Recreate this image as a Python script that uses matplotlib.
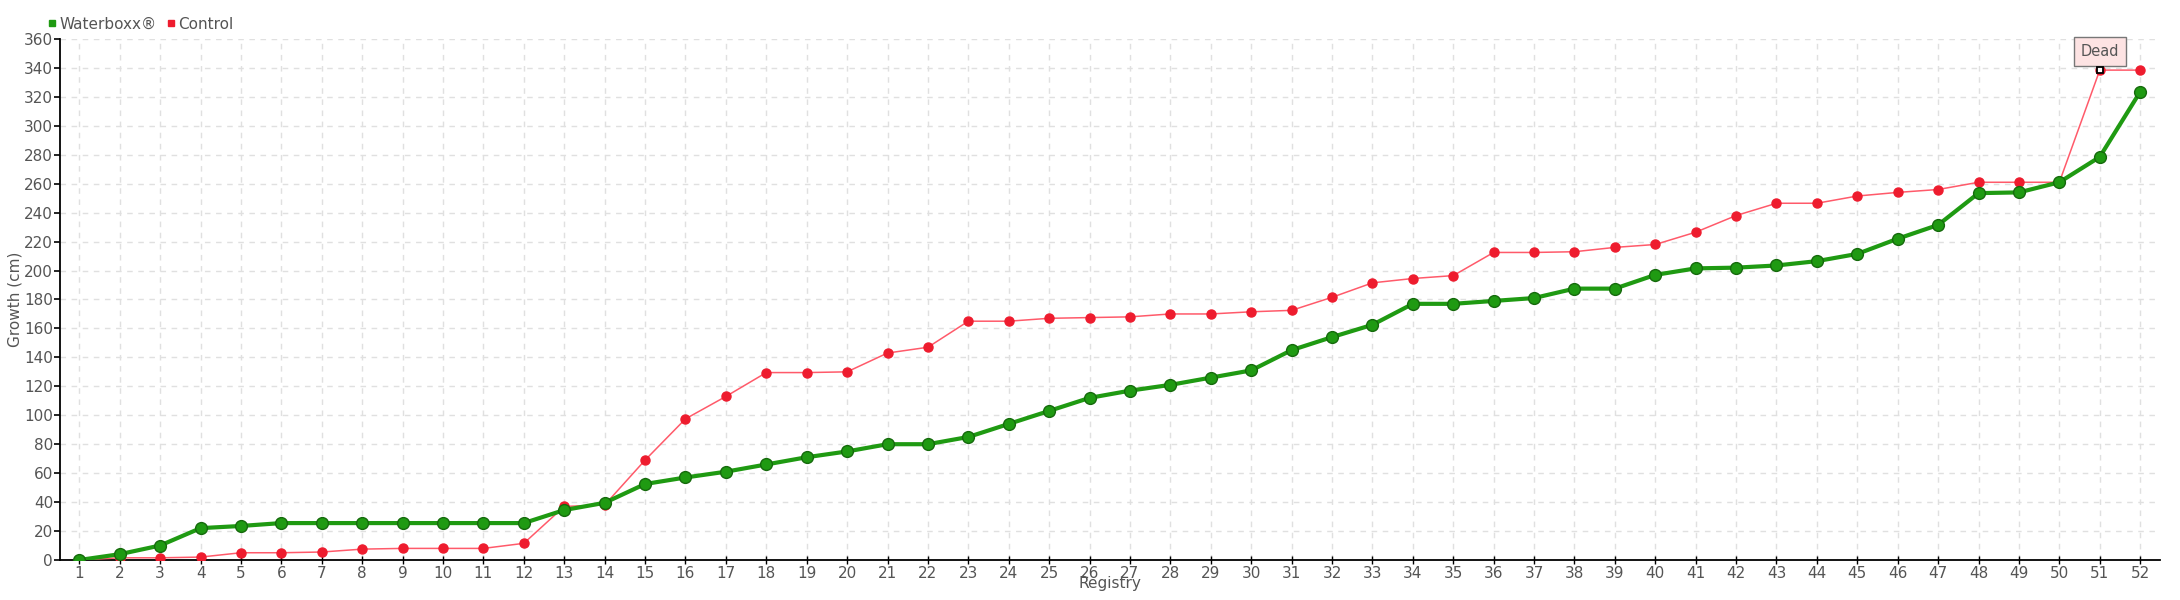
import matplotlib
matplotlib.use('Agg')
import matplotlib.pyplot as plt
from matplotlib.lines import Line2D

plt.rcParams['font.family'] = ['DejaVu Sans Condensed', 'Liberation Sans Narrow', 'DejaVu Sans']

# data
registry = list(range(1, 53))
waterboxx = [0, 4, 10, 22, 23.5, 25.5, 25.5, 25.5, 25.5, 25.5, 25.5, 25.5, 34.5, 39.5, 52.5, 57,
             61, 66, 71, 75, 80, 80, 85, 94, 103, 112, 117, 121, 126, 131, 145, 154,
             162.5, 177, 177, 179, 181, 187.5, 187.5, 197, 201.5, 202, 203.5, 206.5, 211.5, 222, 231.5, 253.5,
             254, 261, 278.5, 323.5]
control = [0, 1.5, 1.5, 2, 5, 5, 5.5, 7.5, 8, 8, 8, 11.5, 37, 38, 69, 97.5,
           113, 129.5, 129.5, 130, 143, 147, 165, 165, 167, 167.5, 168, 170, 170, 171.5, 172.5, 181.5,
           191.5, 194.5, 196.5, 212.5, 212.5, 213, 216, 218, 226.5, 238, 246.5, 246.5, 251.5, 254, 256, 261,
           261, 261, 338.5, 338.5]
dead_idx = 50  # registry 51 in control
yticks = list(range(0, 361, 20))

green = '#1f9a12'
red = '#ee1c2e'
text_col = '#555555'

fig = plt.figure(figsize=(21.8, 6), dpi=100)
ax = fig.add_axes([0.0275, 0.0667, 0.9635, 0.8683])

ax.plot(registry, control, color='#ff5a6a', lw=1.1, marker='o', ms=6.5,
        mfc=red, mec=red, zorder=3)
ax.plot(registry, waterboxx, color=green, lw=3, marker='o', ms=8.5,
        mfc=green, mec='#156a0c', mew=1, zorder=4)

# dead marker + label
ax.plot(registry[dead_idx], control[dead_idx], marker='s', ms=5, mfc='white',
        mec='black', mew=1.3, zorder=6, ls='none')
ax.annotate('Dead', xy=(registry[dead_idx], control[dead_idx]), xytext=(0, 8),
            textcoords='offset points', ha='center', va='bottom', fontsize=10.5,
            color=text_col,
            bbox=dict(boxstyle='square,pad=0.45', fc='#fde3e3', ec='#777777', lw=1),
            arrowprops=dict(arrowstyle='-', color='#777777', lw=0.8))

ax.set_xlim(0.52, 52.5)
ax.set_ylim(0, 360)
ax.set_xticks(registry)
ax.set_yticks(yticks)
ax.grid(True, color='#e0e0e0', ls=(0, (4, 4)), lw=1)
ax.set_axisbelow(True)

for s in ['top', 'right']:
    ax.spines[s].set_visible(False)
for s in ['left', 'bottom']:
    ax.spines[s].set_color('black')
    ax.spines[s].set_linewidth(1.3)

ax.tick_params(axis='y', direction='out', length=4, width=1.2, colors='black',
               labelcolor=text_col, labelsize=11, pad=1)
ax.tick_params(axis='x', direction='inout', length=6, width=1, colors='black',
               labelcolor=text_col, labelsize=11, pad=1)

ax.set_xlabel('Registry', fontsize=11, color=text_col, labelpad=-3)
ax.set_ylabel('Growth (cm)', fontsize=11, color=text_col, labelpad=1)

handles = [Line2D([], [], ls='none', marker='s', ms=5, mfc=green, mec=green),
           Line2D([], [], ls='none', marker='s', ms=5, mfc=red, mec=red)]
fig.legend(handles, ['Waterboxx®', 'Control'], loc='upper left',
           bbox_to_anchor=(0.014, 0.995), ncol=2, frameon=False, fontsize=11,
           handletextpad=0.0, columnspacing=0.4, handlelength=1.0,
           labelcolor=text_col)

fig.savefig('out.png', dpi=100)
